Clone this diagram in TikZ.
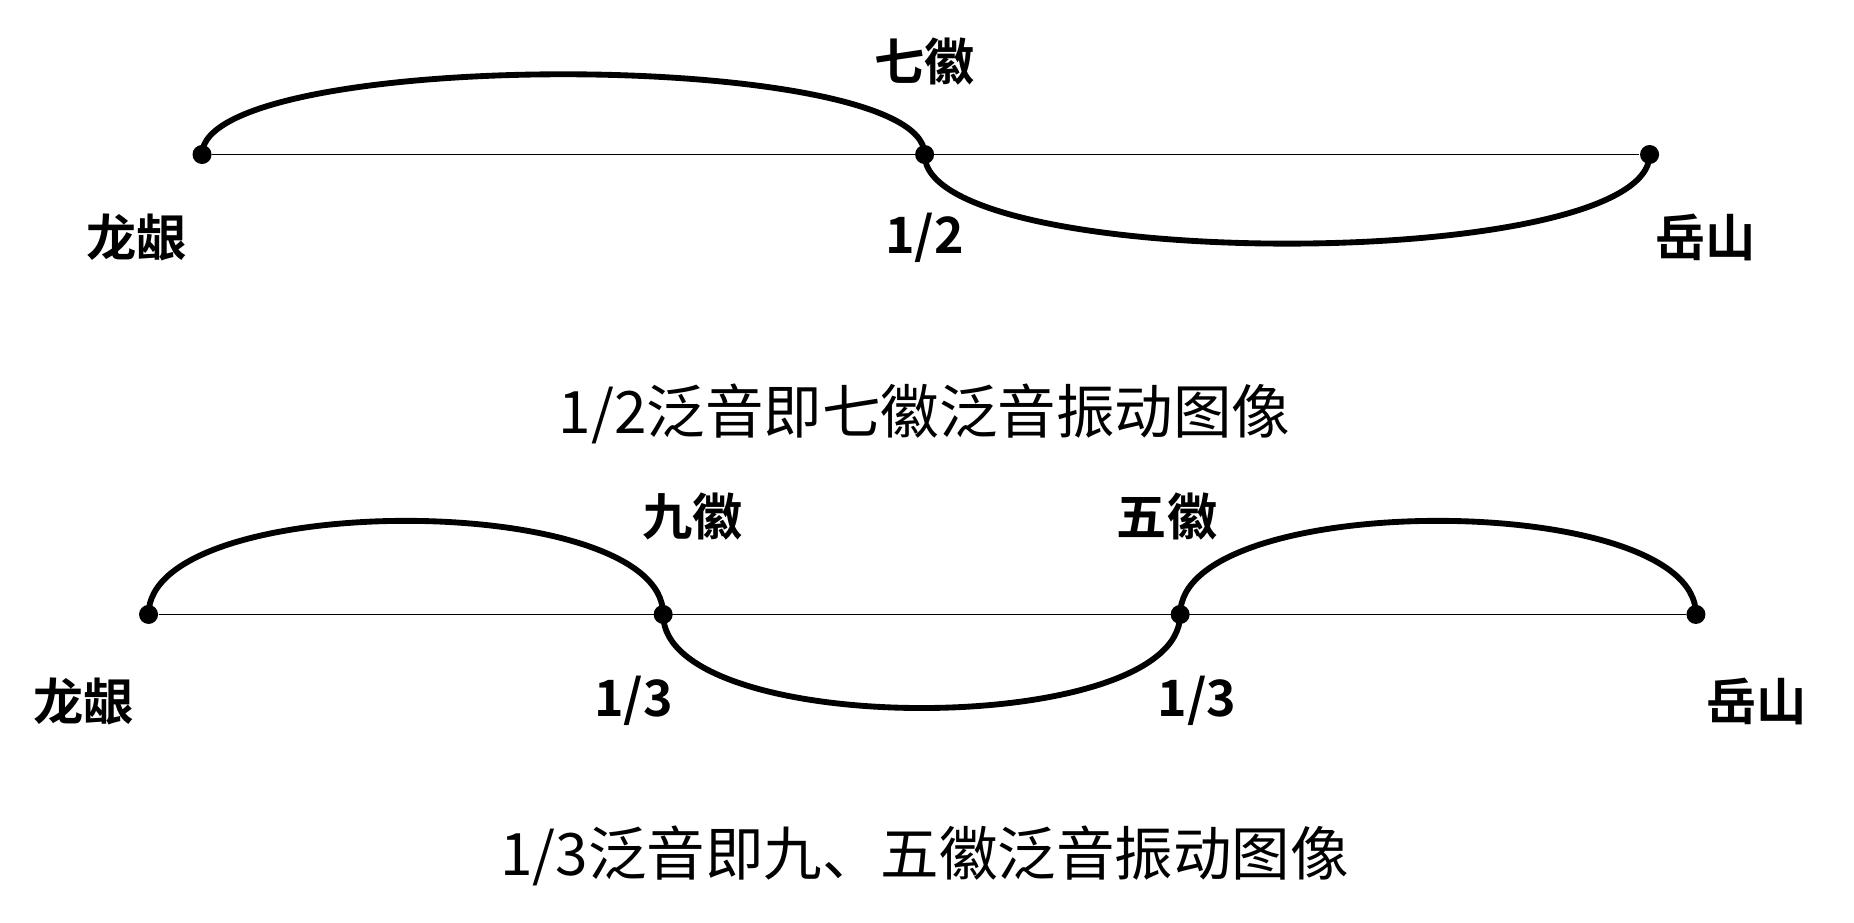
\documentclass[tikz,border=0pt]{standalone}
\usepackage{fontspec}
\newfontfamily\cjk{Noto Sans CJK SC}
\newfontfamily\cjkb{Noto Sans CJK SC Bold}
\begin{document}
\begin{tikzpicture}[x=0.01cm,y=-0.01cm]
  \tikzstyle{dot}=[circle,fill=black,inner sep=0pt,minimum size=1.6mm]
  \tikzstyle{lbl}=[font=\cjkb\fontsize{12}{14}\selectfont]
  \tikzstyle{caption}=[font=\cjk\fontsize{14}{16}\selectfont]
  \tikzstyle{wave}=[line width=1.4pt]
  \useasboundingbox (0,0) rectangle (1560,776);

  % 1/2
  \node [dot] (a1) at (170,130) {};
  \node [dot] (a2) at (778,130) {};
  \node [dot] (a3) at (1388,130) {};
  \draw (a1) -- (a3);
  \draw [wave] (a1.center) .. controls +(0,-90) and +(0,-90) .. (a2.center)
    .. controls +(0,100) and +(0,100) .. (a3.center);
  \node [lbl] (qh) at (778,52) {七徽};
  \node [lbl] (l1) at (115,200) {龙龈};
  \node [lbl] (h1) at (778,200) {1/2};
  \node [lbl] (y1) at (1435,200) {岳山};
  \node [caption] (c1) at (778,348) {1/2泛音即七徽泛音振动图像};

  % 1/3
  \node [dot] (b1) at (125,517) {};
  \node [dot] (b2) at (558,517) {};
  \node [dot] (b3) at (993,517) {};
  \node [dot] (b4) at (1427,517) {};
  \draw (b1) -- (b4);
  \draw [wave] (b1.center) .. controls +(0,-105) and +(0,-105) .. (b2.center)
    .. controls +(0,105) and +(0,105) .. (b3.center)
    .. controls +(0,-105) and +(0,-105) .. (b4.center);
  \node [lbl] (jh) at (583,435) {九徽};
  \node [lbl] (wh) at (982,435) {五徽};
  \node [lbl] (l2) at (70,590) {龙龈};
  \node [lbl] (h2) at (533,590) {1/3};
  \node [lbl] (h3) at (1007,590) {1/3};
  \node [lbl] (y2) at (1478,590) {岳山};
  \node [caption] (c2) at (778,720) {1/3泛音即九、五徽泛音振动图像};
\end{tikzpicture}
\end{document}
